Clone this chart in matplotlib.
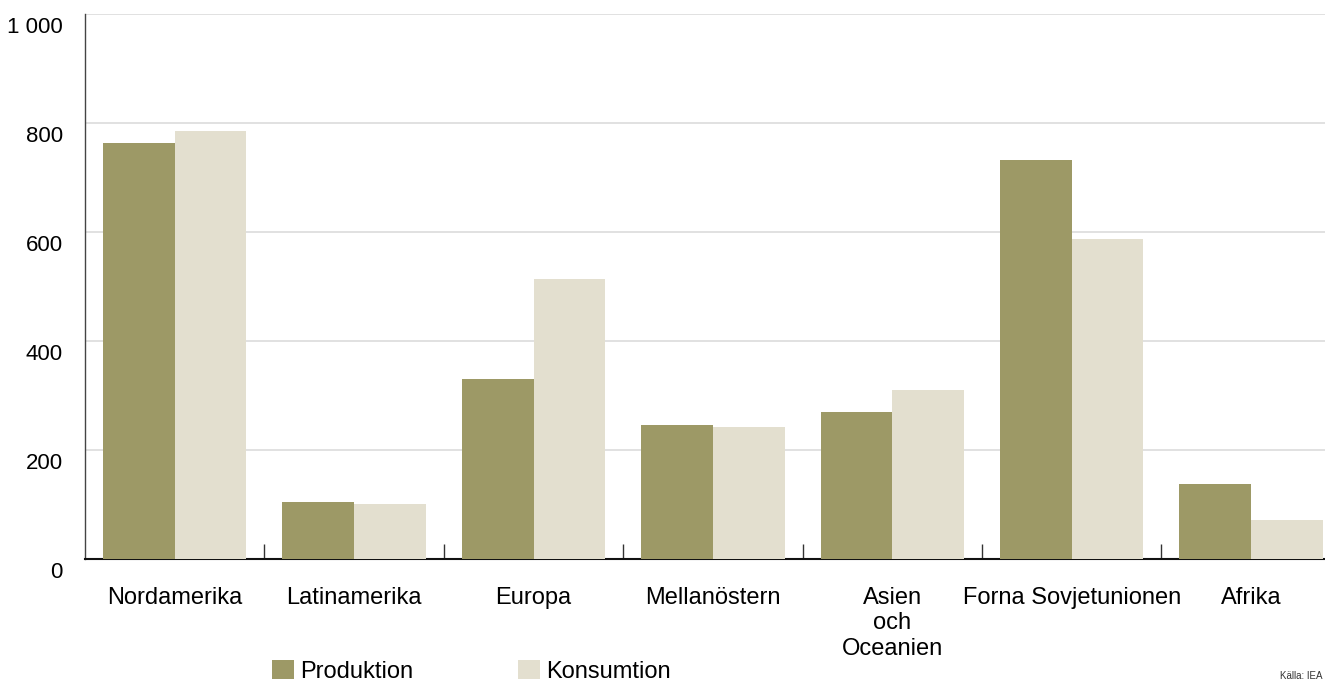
import matplotlib
matplotlib.use("Agg")
import matplotlib.pyplot as plt
import numpy as np
from matplotlib.patches import Patch
from matplotlib.transforms import ScaledTranslation

plt.rcParams['font.family'] = ['Liberation Sans', 'DejaVu Sans']

# Oil production and consumption by region
regions = ["Nordamerika", "Latinamerika", "Europa", "Mellanöstern",
           "Asien\noch\nOceanien", "Forna Sovjetunionen", "Afrika"]
produktion = [764, 105, 330, 246, 270, 733, 138]
konsumtion = [786, 101, 514, 242, 311, 587, 71]
y_ticks = [0, 200, 400, 600, 800, 1000]
y_tick_labels = ["0", "200", "400", "600", "800", "1 000"]
series_names = ["Produktion", "Konsumtion"]

col_prod = "#9d9966"
col_kons = "#e3dfcf"
fs_y = 16
fs = 17

fig = plt.figure(figsize=(13.25, 6.82), dpi=100)
ax = fig.add_axes([85 / 1325, 1 - 559 / 682, 1240 / 1325, 545 / 682])

x = np.arange(len(regions))
w = 0.4
ax.bar(x - w / 2, produktion, width=w, color=col_prod, zorder=3)
ax.bar(x + w / 2, konsumtion, width=w, color=col_kons, zorder=3)

ax.set_xlim(-0.5, -0.5 + 1240 / 179.4)
ax.set_ylim(0, 1000)

# y axis: gridlines, labels sitting just below each line
ax.set_yticks(y_ticks)
ax.set_yticklabels(y_tick_labels, fontsize=fs_y)
ax.tick_params(axis='y', length=0, pad=16)
offset = ScaledTranslation(0, -11 / 100, fig.dpi_scale_trans)
for lbl in ax.get_yticklabels():
    lbl.set_transform(lbl.get_transform() + offset)
ax.yaxis.grid(True, color="#dcdcdc", linewidth=1.2, zorder=0)
ax.set_axisbelow(True)

# x axis: category labels, separator ticks between groups
ax.set_xticks(x)
ax.set_xticklabels(regions, fontsize=fs, linespacing=1.2, va='top')
ax.tick_params(axis='x', length=0, pad=20)
ax.set_xticks(np.arange(len(regions) - 1) + 0.5, minor=True)
ax.tick_params(axis='x', which='minor', direction='in', length=10.5,
               width=1.0, color="#333333")

for side in ("top", "right"):
    ax.spines[side].set_visible(False)
ax.spines["bottom"].set_linewidth(1.5)
ax.spines["bottom"].set_color("#111111")
ax.spines["left"].set_linewidth(1.0)
ax.spines["left"].set_color("#444444")

handles = [Patch(facecolor=col_prod, edgecolor='none'),
           Patch(facecolor=col_kons, edgecolor='none')]
fig.legend(handles, series_names, loc='upper left',
           bbox_to_anchor=(272 / 1325, 1 - 660 / 682), ncol=2, frameon=False,
           fontsize=fs, handlelength=0.93, handleheight=0.85,
           handletextpad=0.26, columnspacing=4.45, borderpad=0,
           borderaxespad=0)

fig.text(1 - 3 / 1325, 1 / 682, "Källa: IEA", fontsize=7,
         ha='right', va='bottom', color="#333333")

fig.savefig("out.png", dpi=100)
